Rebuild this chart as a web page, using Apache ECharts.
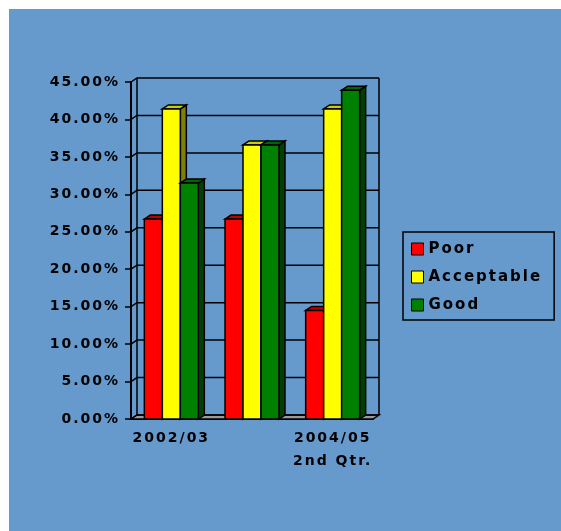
<!DOCTYPE html>
<html>
<head>
<meta charset="utf-8">
<script src="https://cdn.jsdelivr.net/npm/echarts@6/dist/echarts.min.js"></script>
<style>
  html, body { margin: 0; padding: 0; background: #fff; }
  #runChart { width: 561px; height: 531px; }
</style>
</head>
<body>
<div id="runChart"></div>
<script>
// the old chart uses wide, spaced-out letters
const proto = CanvasRenderingContext2D.prototype;
const origFill = proto.fillText;
const origMeasure = proto.measureText;
proto.fillText = function (...args) { this.letterSpacing = "2px"; return origFill.apply(this, args); };
proto.measureText = function (...args) { this.letterSpacing = "2px"; return origMeasure.apply(this, args); };

const categories = ["2002/03", "2003/04", "2004/05\n2nd Qtr."];
const poor = [26.7, 26.7, 14.5];
const acceptable = [41.4, 36.6, 41.4];
const good = [31.5, 36.6, 43.9];
const yTicks = [0, 5, 10, 15, 20, 25, 30, 35, 40, 45];

const DX = 6, DY = 4;
const font = "DejaVu Sans";

const colors = [
  { front: "#FF0000", top: "#C00000", side: "#990000" },
  { front: "#FFFF00", top: "#CCCC00", side: "#808000" },
  { front: "#008000", top: "#006600", side: "#004000" }
];

function barRenderer(idx) {
  return function (params, api) {
    const pt = api.coord([api.value(0), api.value(1)]);
    const base = api.coord([api.value(0), 0]);
    const w = api.size([1, 0])[0];
    const bw = w * 0.223;
    const x0 = pt[0] - 1.5 * bw + idx * bw;
    const y0 = pt[1], y1 = base[1];
    const c = colors[idx];
    const line = { stroke: "#000", lineWidth: 1.5 };
    return {
      type: "group",
      children: [
        { type: "polygon", shape: { points: [[x0 + bw, y0], [x0 + bw + DX, y0 - DY], [x0 + bw + DX, y1 - DY], [x0 + bw, y1]] },
          style: Object.assign({ fill: c.side }, line) },
        { type: "polygon", shape: { points: [[x0, y0], [x0 + DX, y0 - DY], [x0 + bw + DX, y0 - DY], [x0 + bw, y0]] },
          style: Object.assign({ fill: c.top }, line) },
        { type: "rect", shape: { x: x0, y: y0, width: bw, height: y1 - y0 },
          style: Object.assign({ fill: c.front }, line) }
      ]
    };
  };
}

function wallRenderer(params, api) {
  const cs = params.coordSys;
  const v = api.value(1);
  const y = api.coord([0, v])[1];
  const left = cs.x, right = cs.x + cs.width, top = cs.y, base = cs.y + cs.height;
  const line = { stroke: "#000", lineWidth: 1.5, fill: null };
  const children = [];
  if (v === 0) {
    children.push({ type: "polygon", shape: { points: [[left, base], [left + DX, base - DY], [right + DX, base - DY], [right, base]] },
      style: { fill: "#9a9a9a", stroke: "#000", lineWidth: 1.5 } });
  }
  children.push({ type: "polyline", shape: { points: [[left, y], [left + DX, y - DY], [right + DX, y - DY]] }, style: line });
  if (v === yTicks[yTicks.length - 1]) {
    children.push({ type: "polyline", shape: { points: [[left + DX, top - DY], [left + DX, base - DY]] }, style: line });
    children.push({ type: "polyline", shape: { points: [[right + DX, top - DY], [right + DX, base - DY]] }, style: line });
  }
  return { type: "group", children: children };
}

const names = ["Poor", "Acceptable", "Good"];
const values = [poor, acceptable, good];

const barSeries = names.map(function (name, i) {
  return {
    name: name,
    type: "custom",
    z: 3,
    itemStyle: { color: colors[i].front },
    renderItem: barRenderer(i),
    data: categories.map(function (c, j) { return [j, values[i][j]]; })
  };
});

const option = {
  backgroundColor: "#fff",
  animation: false,
  graphic: [
    { type: "rect", z: -10, shape: { x: 9, y: 9, width: 552, height: 522 }, style: { fill: "#6699CC" } }
  ],
  legend: {
    data: names,
    orient: "vertical",
    left: 403,
    top: 232,
    padding: [8, 12, 6, 8],
    itemGap: 10,
    itemWidth: 12,
    itemHeight: 12,
    icon: "rect",
    borderColor: "#000",
    borderWidth: 1.5,
    itemStyle: { borderColor: "#000", borderWidth: 1 },
    textStyle: { fontFamily: font, fontWeight: "bold", fontSize: 15, color: "#000", lineHeight: 18 }
  },
  grid: {
    left: 131,
    right: 188,
    top: 82,
    bottom: 112
  },
  xAxis: {
    type: "category",
    data: categories,
    boundaryGap: true,
    axisLine: { lineStyle: { color: "#000", width: 2 } },
    axisTick: { interval: 0, length: 5, lineStyle: { color: "#000", width: 1.5 } },
    axisLabel: {
      interval: 1,
      margin: 8,
      fontFamily: font,
      fontWeight: "bold",
      fontSize: 14,
      lineHeight: 23,
      color: "#000"
    },
    splitLine: { show: false }
  },
  yAxis: {
    type: "value",
    min: 0,
    max: 45,
    interval: 5,
    axisLine: { show: true, lineStyle: { color: "#000", width: 2 } },
    axisTick: { show: true, length: 6, lineStyle: { color: "#000", width: 1.5 } },
    axisLabel: {
      margin: 11,
      fontFamily: font,
      fontWeight: "bold",
      fontSize: 14,
      color: "#000",
      formatter: function (v) { return v.toFixed(2) + "%"; }
    },
    splitLine: { show: false }
  },
  series: [
    {
      name: "walls",
      type: "custom",
      z: 1,
      silent: true,
      renderItem: wallRenderer,
      data: yTicks.map(function (v) { return [0, v]; })
    }
  ].concat(barSeries)
};

var myChart = echarts.init(document.getElementById("runChart"));
myChart.setOption(option);
</script>
</body>
</html>
